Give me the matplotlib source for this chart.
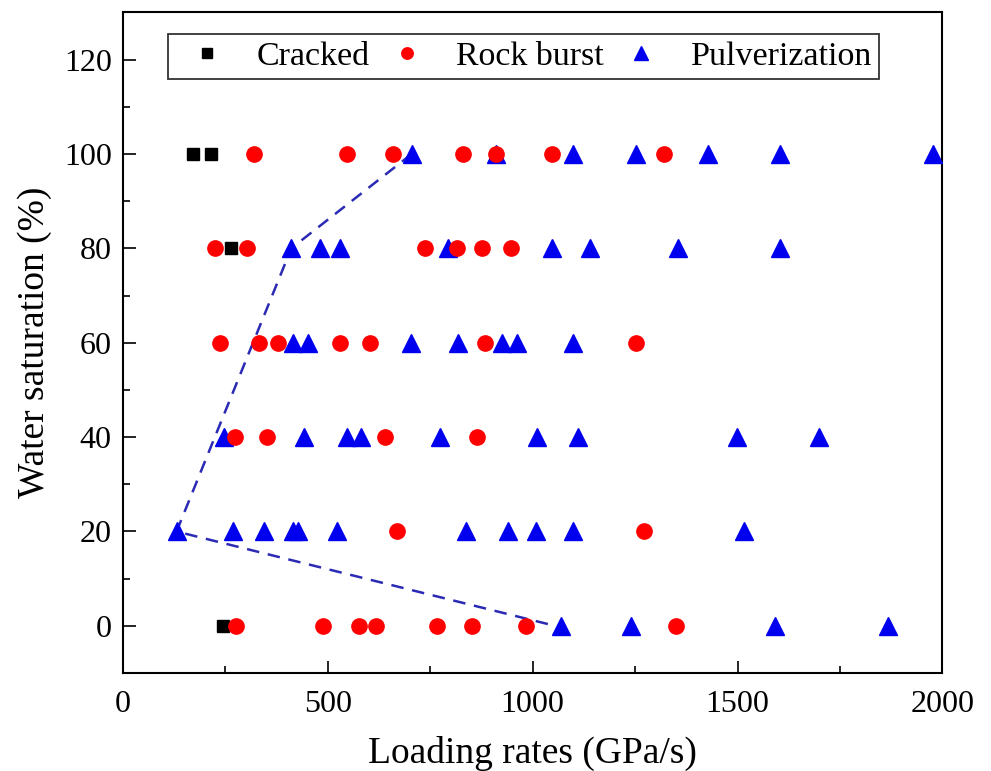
import matplotlib
matplotlib.use("Agg")
import matplotlib.pyplot as plt
from matplotlib.ticker import MultipleLocator

plt.rcParams['font.family'] = ['Liberation Serif', 'DejaVu Serif']

# Cracked
cracked_x = [170, 214, 263, 245]
cracked_y = [100, 100, 80, 0]

# Rock burst
burst_x = [320, 546, 658, 829, 910, 1047, 1320,
           226, 302, 738, 815, 877, 948,
           237, 331, 378, 529, 602, 883, 1253,
           273, 352, 639, 864,
           668, 1271,
           276, 489, 576, 617, 767, 853, 983, 1350]
burst_y = [100] * 7 + [80] * 6 + [60] * 7 + [40] * 4 + [20] * 2 + [0] * 8

# Pulverization
pulv_x = [705, 910, 1098, 1253, 1429, 1604, 1976,
          411, 480, 529, 793, 1047, 1141, 1354, 1604,
          415, 452, 704, 818, 924, 962, 1098,
          246, 442, 546, 582, 775, 1011, 1110, 1498, 1698,
          131, 269, 344, 415, 428, 523, 838, 940, 1007, 1098, 1515,
          1070, 1241, 1592, 1867]
pulv_y = [100] * 7 + [80] * 8 + [60] * 7 + [40] * 9 + [20] * 11 + [0] * 4

# Boundary (dashed)
bound_x = [705, 411, 131, 1055]
bound_y = [100, 80, 20, 0]

fig = plt.figure(figsize=(9.91, 7.71), dpi=100)
ax = fig.add_axes([0.124, 0.127, 0.827, 0.857])

ax.plot(bound_x, bound_y, linestyle=(0, (5, 3.5)), color='#2a2ab4', lw=1.8, zorder=2)
ax.plot(cracked_x, cracked_y, 's', color='black', ms=9, ls='none', zorder=3, label='Cracked')
ax.plot(pulv_x, pulv_y, '^', color='#0000ee', ms=12.5, ls='none', zorder=3.5, label='Pulverization')
ax.plot(burst_x, burst_y, 'o', color='#ff0000', ms=11, ls='none', zorder=4, label='Rock burst')

ax.set_xlim(0, 2000)
ax.set_ylim(-10, 130)
ax.xaxis.set_major_locator(MultipleLocator(500))
ax.xaxis.set_minor_locator(MultipleLocator(250))
ax.yaxis.set_minor_locator(MultipleLocator(10))
ax.set_yticks([0, 20, 40, 60, 80, 100, 120])

ax.tick_params(which='both', direction='in', top=False, right=False, width=1.2, labelsize=23)
ax.tick_params(which='major', length=9)
ax.tick_params(which='minor', length=5)
ax.tick_params(axis='x', pad=12)
ax.tick_params(axis='y', pad=8)
for s in ax.spines.values():
    s.set_linewidth(1.5)

ax.set_xlabel('Loading rates (GPa/s)', fontsize=27, labelpad=12)
ax.set_ylabel('Water saturation (%)', fontsize=27, labelpad=8.5)

h, l = ax.get_legend_handles_labels()
order = [0, 2, 1]
leg = ax.legend([h[i] for i in order], [l[i] for i in order], ncol=3,
                loc='upper center', bbox_to_anchor=(0.4885, 0.967),
                fontsize=24.5, frameon=True, fancybox=False, edgecolor='black',
                markerscale=0.75, handlelength=1.9, handletextpad=0.5,
                columnspacing=0.15, borderpad=0.2, borderaxespad=0.0)
leg.get_frame().set_linewidth(1.3)

fig.savefig('out.png', dpi=100)
